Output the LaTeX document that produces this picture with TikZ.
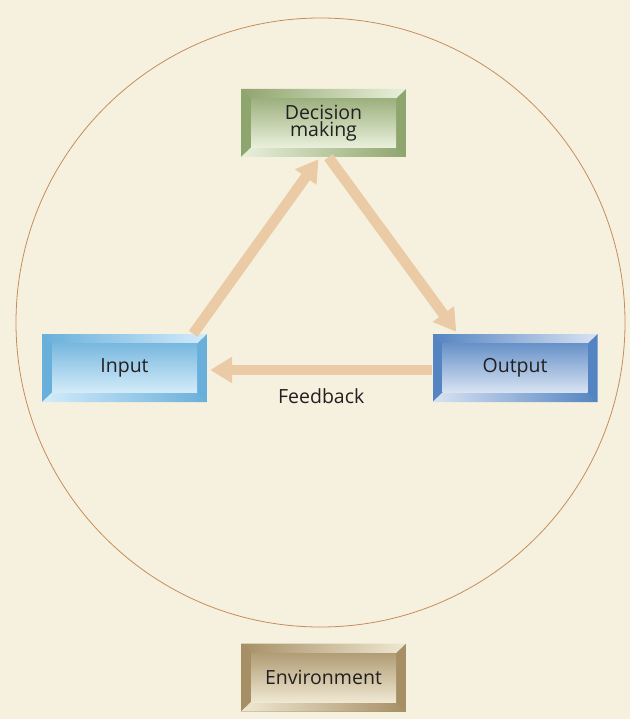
\documentclass[tikz,border=0pt]{standalone}
\usepackage{fontspec}
\setmainfont{Open Sans}
\usetikzlibrary{arrows.meta}

\definecolor{paper}{HTML}{F6F1DE}
\definecolor{rim}{HTML}{C68D5C}
\definecolor{flowc}{HTML}{EACBA6}
\definecolor{ink}{HTML}{231F20}
\definecolor{greenD}{HTML}{8FA56E}
\definecolor{greenL}{HTML}{E9F0DB}
\definecolor{cyanD}{HTML}{69AFDB}
\definecolor{cyanL}{HTML}{D3ECF9}
\definecolor{blueD}{HTML}{5484C1}
\definecolor{blueL}{HTML}{D8E3F2}
\definecolor{sandD}{HTML}{A68F65}
\definecolor{sandL}{HTML}{EFE8D2}

\tikzset{
  block/.style 2 args={
    minimum width=165pt, minimum height=68pt, inner sep=0pt, align=center,
    text=ink, font=\fontsize{19.5}{17.5}\selectfont,
    path picture={
      % frame
      \fill[#1] (path picture bounding box.south west) rectangle (path picture bounding box.north east);
      % top strip, light towards the right
      \shade[left color=#1, right color=#2]
        (path picture bounding box.north west) -- (path picture bounding box.north east)
        -- ([shift={(-10pt,-9.5pt)}]path picture bounding box.north east)
        -- ([shift={(10pt,-9.5pt)}]path picture bounding box.north west) -- cycle;
      % bottom strip, light towards the left
      \shade[left color=#2, right color=#1]
        (path picture bounding box.south west) -- (path picture bounding box.south east)
        -- ([shift={(-10pt,9.5pt)}]path picture bounding box.south east)
        -- ([shift={(10pt,9.5pt)}]path picture bounding box.south west) -- cycle;
      % face
      \shade[top color=#1!85!#2, bottom color=#2]
        ([shift={(10pt,-9.5pt)}]path picture bounding box.north west)
        rectangle ([shift={(-10pt,9.5pt)}]path picture bounding box.south east);
    }},
  flow/.style={line width=10.5pt, flowc, -{Triangle[length=22pt,width=25pt]}}
}

\begin{document}
\begin{tikzpicture}[x=1pt,y=-1pt]
  \fill[paper] (0,0) rectangle (630,719);
  \useasboundingbox (0,0) rectangle (630,719);

  % environment circle
  \draw[rim, line width=0.8pt] (320.5,322.5) circle[radius=304.5];

  \node[block={greenD}{greenL}] (decision) at (323.5,123) {Decision\\making};
  \node[block={cyanD}{cyanL}] (input) at (124.5,368) {Input};
  \node[block={blueD}{blueL}] (output) at (515,368) {Output};
  \node[block={sandD}{sandL}] (environment) at (323.5,677.5) {Environment};

  % arrows
  \draw[flow] ([xshift=-14pt]input.north east) -- ([xshift=-5pt,yshift=-2pt]decision.south);
  \draw[flow] ([xshift=5pt]decision.south) -- ([xshift=24pt,yshift=2pt]output.north west);
  \draw[flow] ([yshift=-2pt]output.west) -- ([xshift=3pt,yshift=-2pt]input.east)
    node[midway, yshift=-26pt, text=ink, font=\fontsize{19.5}{17.5}\selectfont] (feedback) {Feedback};
\end{tikzpicture}
\end{document}
